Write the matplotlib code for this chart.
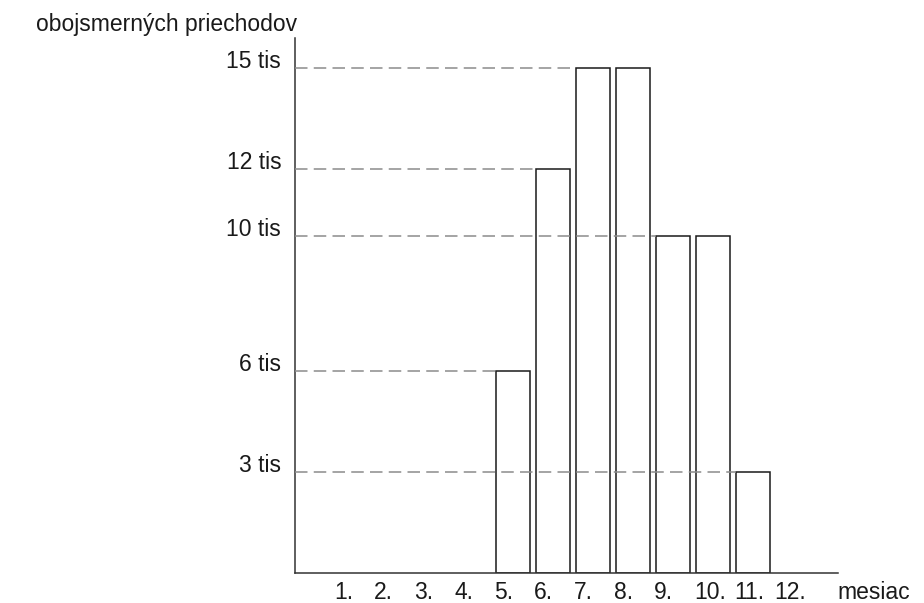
import matplotlib
matplotlib.use("Agg")
import matplotlib.pyplot as plt
import matplotlib.transforms as mtransforms

plt.rcParams['font.family'] = ['Liberation Sans', 'DejaVu Sans']
plt.rcParams['lines.scale_dashes'] = False

# dáta (tisíce obojsmerných priechodov podľa mesiaca)
months = [1, 2, 3, 4, 5, 6, 7, 8, 9, 10, 11, 12]
month_labels = ['1.', '2.', '3.', '4.', '5.', '6.', '7.', '8.', '9.', '10.', '11.', '12.']
values = [0, 0, 0, 0, 6, 12, 15, 15, 10, 10, 3, 0]
levels = [3, 6, 10, 12, 15]
level_labels = ['3 tis', '6 tis', '10 tis', '12 tis', '15 tis']

bar_w = 0.85
txt = '#1a1a1a'
fs = 16.5

fig = plt.figure(figsize=(9.24, 6.03), dpi=100)
ax = fig.add_axes([0.3193, 0.04975, 0.5876, 0.8873])

shown = [(m, v) for m, v in zip(months, values) if v > 0]
ax.bar([m for m, v in shown], [v for m, v in shown], width=bar_w,
       color='white', edgecolor='#1a1a1a', linewidth=1.1, zorder=2)

ax.set_xlim(-0.45, 13.125)
ax.set_ylim(0, 15.89)

# prerušované čiary od osi cez stĺpce až po stĺpec danej výšky
for lv in levels:
    m_first = next(m for m, v in zip(months, values) if v == lv)
    ax.plot([-0.45, m_first - bar_w / 2], [lv, lv], color='#8c8c8c',
            linewidth=1.1, dashes=(9, 4.5), zorder=3, clip_on=False)

for s in ['top', 'right']:
    ax.spines[s].set_visible(False)
for s in ['left', 'bottom']:
    ax.spines[s].set_color('#333333')
    ax.spines[s].set_linewidth(1.1)

ax.set_yticks(levels)
ax.set_yticklabels(level_labels)
ax.tick_params(axis='y', length=0, pad=10, labelsize=fs, labelcolor=txt)
for lbl in ax.get_yticklabels():
    lbl.set_va('baseline')

ax.set_xticks(months)
ax.set_xticklabels(month_labels)
ax.tick_params(axis='x', length=0, pad=6, labelsize=fs, labelcolor=txt)
shift = mtransforms.ScaledTranslation(-19 / 100, 0, fig.dpi_scale_trans)
for lbl in ax.get_xticklabels():
    lbl.set_ha('left')
    lbl.set_transform(lbl.get_transform() + shift)

fig.text(297 / 924, (603 - 31) / 603, 'obojsmerných priechodov', ha='right',
         va='baseline', fontsize=fs, color=txt)
fig.text(837 / 924, (603 - 599) / 603, 'mesiac', ha='left', va='baseline',
         fontsize=fs, color=txt)

fig.savefig('out.png', dpi=100, facecolor='white')
